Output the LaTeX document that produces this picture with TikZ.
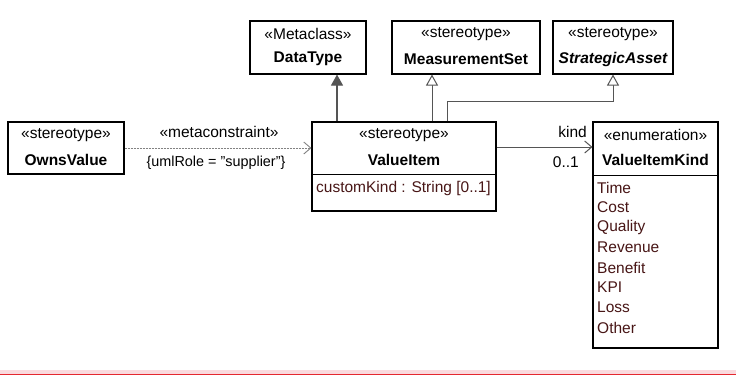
\documentclass[tikz,border=0pt]{standalone}
\usepackage{fontspec}
\setmainfont{Liberation Sans}
\usetikzlibrary{arrows.meta,calc}
\definecolor{attrcol}{RGB}{72,22,22}
\definecolor{linecol}{RGB}{85,85,85}
\definecolor{dashcol}{RGB}{130,130,130}
\definecolor{bandpink}{RGB}{250,218,222}
\definecolor{bandred}{RGB}{228,40,48}
\begin{document}
\begin{tikzpicture}[x=1pt,y=-1pt,
  box/.style={draw=black,line width=1.1pt,fill=white,inner sep=0pt},
  stereo/.style={inner sep=0pt,font=\fontsize{15.5}{18}\selectfont},
  cname/.style={inner sep=0pt,font=\fontsize{15.5}{18}\selectfont\bfseries},
  attr/.style={inner sep=0pt,anchor=west,text=attrcol,font=\fontsize{15.5}{18}\selectfont},
  lbl/.style={inner sep=0pt,font=\fontsize{15.5}{18}\selectfont},
  extarrow/.style={draw=linecol,line width=1.1pt,-{Triangle[width=12pt,length=11pt,fill=linecol]}},
  genarrow/.style={draw=linecol,line width=1pt,-{Triangle[open,width=12pt,length=11pt,fill=white]}},
  deparrow/.style={draw=dashcol,line width=0.9pt,dash pattern=on 2pt off 1pt,-{Straight Barb[length=7pt,width=12pt]}},
  assocarrow/.style={draw=linecol,line width=1pt,-{Straight Barb[length=7pt,width=12pt]}}
]
\useasboundingbox (0,0) rectangle (736,376);
% bottom band
\fill[bandpink] (0,369.5) rectangle (736,374);
\draw[bandred,line width=1.4pt] (0,374.3) -- (736,374.3);

% DataType
\node[box,minimum width=116pt,minimum height=53pt] (dt) at (308,47.5) {};
\node[stereo] (dts) at (308,34) {«Metaclass»};
\node[cname] (dtn) at (308,59) {DataType};
% MeasurementSet
\node[box,minimum width=148pt,minimum height=53pt] (ms) at (466,47.5) {};
\node[stereo] (mss) at (466,34) {«stereotype»};
\node[cname] (msn) at (466,59) {MeasurementSet};
% StrategicAsset
\node[box,minimum width=120pt,minimum height=53pt] (sa) at (613,47.5) {};
\node[stereo] (sas) at (613,34) {«stereotype»};
\node[cname] (san) at (613,59) {\itshape StrategicAsset};
% OwnsValue
\node[box,minimum width=116pt,minimum height=52pt] (ov) at (66,148) {};
\node[stereo] (ovs) at (66,135) {«stereotype»};
\node[cname] (ovn) at (66,160) {OwnsValue};
% ValueItem
\node[box,minimum width=184pt,minimum height=89pt] (vi) at (404,166.5) {};
\node[stereo] (vis) at (404,135) {«stereotype»};
\node[cname] (vin) at (404,160) {ValueItem};
\draw[line width=1pt] (312,174) -- (496,174);
\node[attr] (via) at (316,188) {customKind : String [0..1]};
% ValueItemKind
\node[box,minimum width=125pt,minimum height=226pt] (vk) at (655.5,235) {};
\node[stereo] (vks) at (655.5,135) {«enumeration»};
\node[cname] (vkn) at (655.5,160) {ValueItemKind};
\draw[line width=1pt] (593,175) -- (718,175);
\foreach \t [count=\i from 0] in {Time,Cost,Quality,Revenue,Benefit,KPI,Loss,Other}
  \node[attr] (vk\i) at (597,187.5+20*\i) {\t};

% connectors
\draw[extarrow] (vi.north -| 337,0) -- (dt.south -| 337,0);
\draw[genarrow] (vi.north -| 432,0) -- (ms.south -| 432,0);
\draw[genarrow] (vi.north -| 447,0) -- (447,101) -- (613,101) -- (sa.south);
\draw[deparrow] (ov.east) -- (vi.west |- ov.east);
\node[lbl] (mc) at (219,132) {«metaconstraint»};
\node[inner sep=0pt,font=\fontsize{14.4}{17}\selectfont] (ur) at (216,163) {\{umlRole = "supplier"\}};
\draw[assocarrow] (vi.east |- 0,147) -- (vk.west |- 0,147);
\node[lbl,anchor=east] (kind) at (587,132) {kind};
\node[lbl,anchor=east] (mult) at (579,162) {0..1};
\end{tikzpicture}
\end{document}
